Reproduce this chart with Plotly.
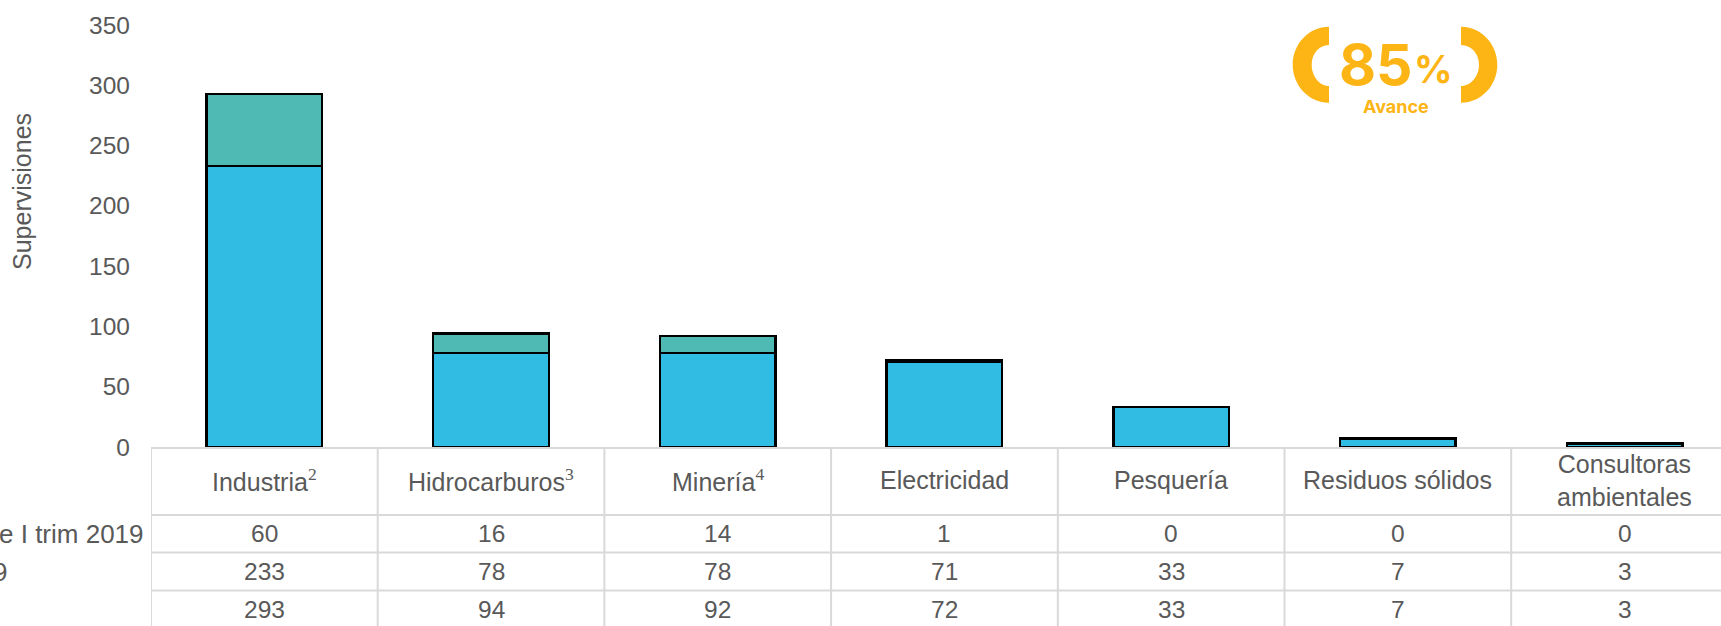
import plotly.graph_objects as go

SUP = '<sup><span style="font-family:Liberation Serif">%s</span></sup>'
categories = ["Industria" + SUP % "2", "Hidrocarburos" + SUP % "3", "Minería" + SUP % "4", "Electricidad",
              "Pesquería", "Residuos sólidos", "Consultoras<br>ambientales"]
primer_trim = [60, 16, 14, 1, 0, 0, 0]
programadas = [233, 78, 78, 71, 33, 7, 3]
totales = [293, 94, 92, 72, 33, 7, 3]
row_labels = ["e I trim 2019", "9", ""]
y_ticks = [0, 50, 100, 150, 200, 250, 300, 350]

W, H = 1721, 626
L, T, B = 151, 25, 447
TXT = "#595959"
GRID = "#d9d9d9"
YEL = "#FDB515"
FONT = "Liberation Sans"
FS = 24.5
FC = 25


def px(x):
    return (x - L) / (W - L)


def py(y):
    return (B - y) / (B - T)


xs = list(range(len(categories)))
fig = go.Figure()
fig.add_bar(x=xs, y=programadas, name="2019", marker=dict(color="#31BCE3", line=dict(color="#000", width=2.4)))
fig.add_bar(x=xs, y=primer_trim, name="I trim 2019", marker=dict(color="#4FB9B3", line=dict(color="#000", width=2.4)))

shapes = []
row_edges = [B + 1, 515, 552.5, 590.5]
for e in row_edges:
    shapes.append(dict(type="line", xref="paper", yref="paper", x0=0, x1=1, y0=py(e), y1=py(e),
                       line=dict(color=GRID, width=2), layer="above"))
for i in range(len(categories)):
    shapes.append(dict(type="line", xref="x", yref="paper", x0=i - 0.5, x1=i - 0.5, y0=py(B + 1), y1=py(H),
                       line=dict(color=GRID, width=2), layer="above"))


def bracket(xa, xo, xi, top_o, bot_o, top_i, bot_i):
    k = 0.5523
    cy = (top_o + bot_o) / 2
    ro = (bot_o - top_o) / 2
    ri = (bot_i - top_i) / 2
    pts = [
        ("M", (xa, top_o)),
        ("C", (xa + (xo - xa) * k, top_o), (xo, cy - ro * k), (xo, cy)),
        ("C", (xo, cy + ro * k), (xa + (xo - xa) * k, bot_o), (xa, bot_o)),
        ("L", (xa, bot_i)),
        ("C", (xa + (xi - xa) * k, bot_i), (xi, cy + ri * k), (xi, cy)),
        ("C", (xi, cy - ri * k), (xa + (xi - xa) * k, top_i), (xa, top_i)),
    ]
    s = ""
    for p in pts:
        s += p[0] + " " + " ".join(f"{px(a):.5f},{py(b):.5f}" for a, b in p[1:]) + " "
    return s + "Z"


for args in [(1329, 1292.7, 1311.7, 26.7, 102.7, 45, 86), (1461, 1497.3, 1479, 26.7, 102.7, 45, 86)]:
    shapes.append(dict(type="path", xref="paper", yref="paper", path=bracket(*args),
                       fillcolor=YEL, line=dict(width=0), layer="above"))

ann = []


def note(x, y, text, size=FS, color=TXT, xref="x", xanchor="center", family=FONT, **kw):
    ann.append(dict(x=x, y=py(y), xref=xref, yref="paper", text=text, showarrow=False, xanchor=xanchor,
                    yanchor="middle", font=dict(family=family, size=size, color=color), **kw))


for i, c in enumerate(categories):
    note(i, 480, c, size=FC)
    note(i, 533.5, str(primer_trim[i]))
    note(i, 571.5, str(programadas[i]))
    note(i, 609.5, str(totales[i]))

for text, right, y in zip(row_labels, [146, 9, 9], [533.5, 571.5, 609.5]):
    if text:
        note(px(right), y, text, size=26, xref="paper", xanchor="right")

note(px(22), 192, "Supervisiones", size=25, xref="paper", textangle=-90)
note(px(1376), 64, "<b>85</b>", size=57, color=YEL, xref="paper", family="Inter")
note(px(1433), 69, "<b>%</b>", size=38, color=YEL, xref="paper", family="Inter")
note(px(1396), 106, "<b>Avance</b>", size=18, color=YEL, xref="paper", family="Inter")

fig.update_layout(
    width=W, height=H, autosize=False, barmode="stack", bargap=0.49, showlegend=False,
    margin=dict(l=L, r=0, t=T, b=H - B, pad=0), paper_bgcolor="#fff", plot_bgcolor="#fff",
    font=dict(family=FONT, size=FS, color=TXT), shapes=shapes, annotations=ann,
    xaxis=dict(range=[-0.5, -0.5 + (W - L) / 226.7], showticklabels=False, ticks="", showgrid=False,
               zeroline=False, showline=False, fixedrange=True),
    yaxis=dict(range=[0, 350], tickvals=y_ticks, showgrid=False, zeroline=False, showline=False, ticks="",
               ticklabelstandoff=20, tickfont=dict(size=FS, color=TXT, family=FONT), fixedrange=True),
)
fig.write_html("out.html", config={"displayModeBar": False},
               post_script="document.body.style.margin='0';document.documentElement.style.overflow='hidden';")
